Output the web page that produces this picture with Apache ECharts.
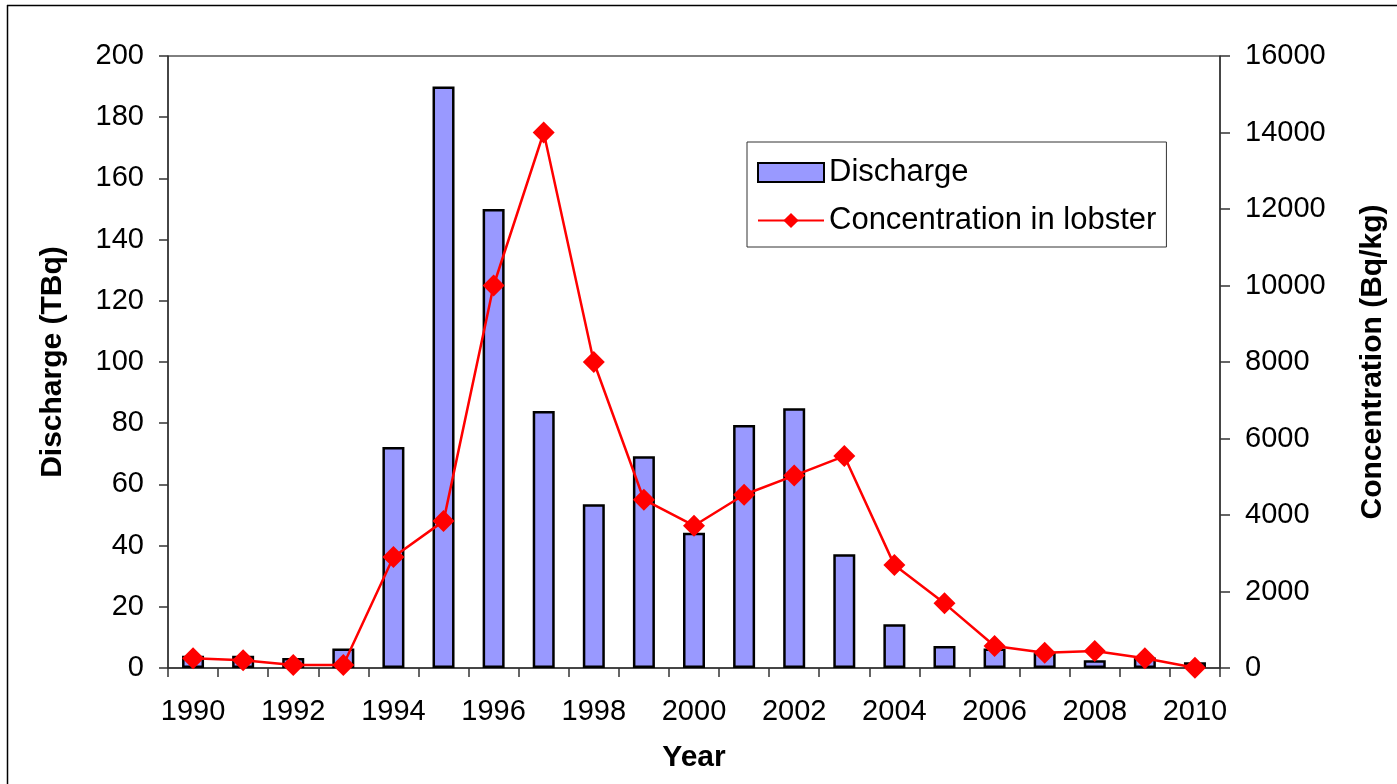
<!DOCTYPE html>
<html>
<head>
<meta charset="utf-8">
<script src="https://cdn.jsdelivr.net/npm/echarts@6/dist/echarts.min.js"></script>
<style>html,body{margin:0;padding:0;background:#fff;}#c{width:1397px;height:784px;}</style>
</head>
<body>
<div id="c"></div>
<script>
const years = ['1990','1991','1992','1993','1994','1995','1996','1997','1998','1999','2000','2001','2002','2003','2004','2005','2006','2007','2008','2009','2010'];
const discharge = [4, 4, 3.3, 6.4, 72.2, 190, 150, 84, 53.5, 69.2, 44.2, 79.4, 84.9, 37.2, 14.3, 7.2, 6.4, 5.0, 2.5, 3.4, 1.9];
const concentration = [254, 200, 78, 78, 2900, 3840, 10000, 14000, 8000, 4400, 3720, 4530, 5030, 5540, 2690, 1690, 575, 400, 444, 253, 8];
const leftTicks = [0, 200, 20];
const rightTicks = [0, 16000, 2000];

const FONT = '"Liberation Sans", Arial, sans-serif';
const chart = echarts.init(document.getElementById('c'), null, {renderer: 'canvas'});
chart.setOption({
  animation: false,
  backgroundColor: '#fff',
  textStyle: {fontFamily: FONT, color: '#000'},
  graphic: [
    {type: 'line', shape: {x1: 7, y1: 5.5, x2: 1397, y2: 5.5}, style: {stroke: '#000', lineWidth: 1.5}},
    {type: 'line', shape: {x1: 7.5, y1: 5, x2: 7.5, y2: 784}, style: {stroke: '#000', lineWidth: 1.5}}
  ],
  grid: {left: 168, right: 177, top: 56, bottom: 116, show: true, borderColor: '#000', borderWidth: 1, backgroundColor: 'transparent'},
  legend: {
    orient: 'vertical',
    left: 747, top: 142,
    padding: [14, 10, 10, 10],
    itemGap: 15,
    itemWidth: 66, itemHeight: 19,
    borderColor: '#333', borderWidth: 1,
    backgroundColor: '#fff',
    textStyle: {fontFamily: FONT, fontSize: 31, color: '#000', lineHeight: 33},
    data: [
      {name: 'Discharge', icon: 'rect'},
      {name: 'Concentration in lobster'}
    ]
  },
  xAxis: {
    type: 'category',
    data: years,
    boundaryGap: true,
    name: 'Year',
    nameLocation: 'middle',
    nameGap: 75,
    nameTextStyle: {fontFamily: FONT, fontSize: 30, fontWeight: 'bold', color: '#000'},
    axisLine: {lineStyle: {color: '#333', width: 1.5}},
    axisTick: {show: true, length: 9, interval: 0, lineStyle: {color: '#333', width: 1.5}},
    axisLabel: {interval: 1, margin: 29, fontFamily: FONT, fontSize: 29, color: '#000'},
    splitLine: {show: false}
  },
  yAxis: [
    {
      type: 'value', position: 'left',
      min: leftTicks[0], max: leftTicks[1], interval: leftTicks[2],
      name: 'Discharge (TBq)', nameLocation: 'middle', nameGap: 100, nameRotate: 90,
      nameTextStyle: {fontFamily: FONT, fontSize: 30, fontWeight: 'bold', color: '#000'},
      axisLine: {show: true, lineStyle: {color: '#333', width: 1.5}},
      axisTick: {show: true, length: 9, lineStyle: {color: '#333', width: 1.5}},
      axisLabel: {margin: 24, fontFamily: FONT, fontSize: 29, color: '#000'},
      splitLine: {show: false}
    },
    {
      type: 'value', position: 'right',
      min: rightTicks[0], max: rightTicks[1], interval: rightTicks[2],
      name: 'Concentration (Bq/kg)', nameLocation: 'middle', nameGap: 138, nameRotate: 90,
      nameTextStyle: {fontFamily: FONT, fontSize: 30, fontWeight: 'bold', color: '#000'},
      axisLine: {show: true, lineStyle: {color: '#333', width: 1.5}},
      axisTick: {show: true, length: 10, lineStyle: {color: '#333', width: 1.5}},
      axisLabel: {margin: 25, fontFamily: FONT, fontSize: 29, color: '#000', formatter: function (v) { return String(v); }},
      splitLine: {show: false}
    }
  ],
  series: [
    {
      name: 'Discharge', type: 'bar', yAxisIndex: 0,
      data: discharge,
      barWidth: 22,
      itemStyle: {color: '#9999ff', borderColor: '#000', borderWidth: 2.5}
    },
    {
      name: 'Concentration in lobster', type: 'line', yAxisIndex: 1,
      data: concentration,
      symbol: 'diamond', symbolSize: 22,
      lineStyle: {color: '#ff0000', width: 2.5},
      itemStyle: {color: '#ff0000'}
    }
  ]
});
</script>
</body>
</html>
